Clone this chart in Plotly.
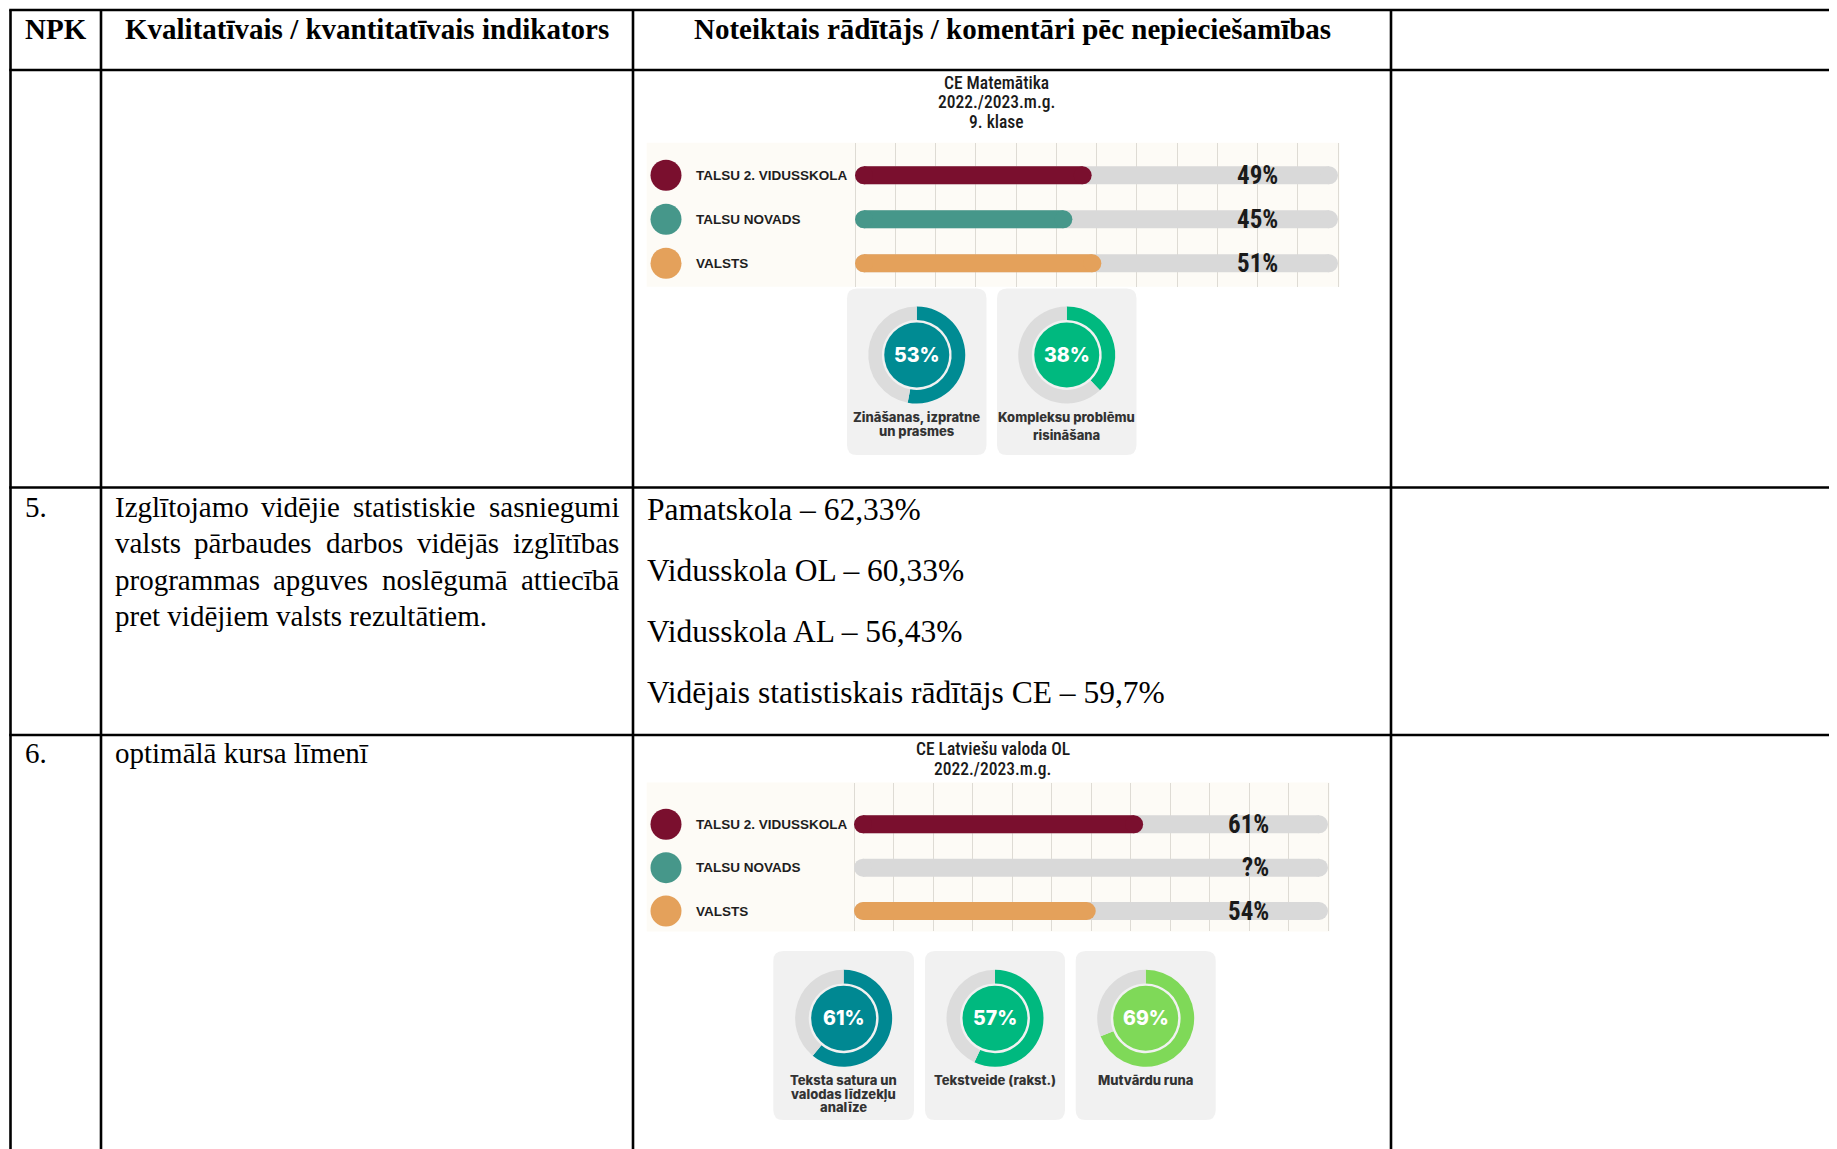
import plotly.graph_objects as go

W, H = 1837, 1149          # target picture size
OFF = 8                    # page body margin of the html page
FW, FH = W - 2 * OFF, H - OFF

# ------------------------------------------------------------------ data
header = ["NPK", "Kvalitatīvais / kvantitatīvais indikators",
          "Noteiktais rādītājs / komentāri pēc nepieciešamības"]
row5_num = "5."
row5_indicator = ["Izglītojamo vidējie statistiskie sasniegumi",
                  "valsts pārbaudes darbos vidējās izglītības",
                  "programmas apguves noslēgumā attiecībā",
                  "pret vidējiem valsts rezultātiem."]
row5_results = ["Pamatskola – 62,33%", "Vidusskola OL – 60,33%",
                "Vidusskola AL – 56,43%", "Vidējais statistiskais rādītājs CE – 59,7%"]
row6_num = "6."
row6_indicator = "optimālā kursa līmenī"

categories = ["TALSU 2. VIDUSSKOLA", "TALSU NOVADS", "VALSTS"]

chart1_title = ["CE Matemātika", "2022./2023.m.g.", "9. klase"]
chart1_bar_values = [49, 45, 51]
chart1_value_labels = ["49%", "45%", "51%"]
chart1_donut_values = [53, 38]
chart1_donut_labels = [["Zināšanas, izpratne", "un prasmes"], ["Kompleksu problēmu", "risināšana"]]

chart2_title = ["CE Latviešu valoda OL", "2022./2023.m.g."]
chart2_bar_values = [61, None, 51]
chart2_value_labels = ["61%", "?%", "54%"]
chart2_donut_values = [61, 57, 69]
chart2_donut_labels = [["Teksta satura un", "valodas līdzekļu", "analīze"],
                       ["Tekstveide (rakst.)"], ["Mutvārdu runa"]]

track_values = [100, 100, 100]

# ------------------------------------------------------------------ styles
SERIES_COLORS = ["#7A0F2E", "#46978A", "#E4A15B"]
TRACK = "#D9D9D9"
CREAM = "#FDFBF6"
GRID = "#DEDBD4"
CARD = "#F1F1F1"
RING_TRACK = "#DCDCDC"
DONUT1_COLORS = ["#008B93", "#00B97F"]
DONUT2_COLORS = ["#008892", "#00B97F", "#7FD958"]

SERIF = "Liberation Serif, Times New Roman, serif"
NARROW = "Liberation Sans Narrow, Arial Narrow, Roboto Condensed, DejaVu Sans Condensed, Liberation Sans, sans-serif"
SANS = "Liberation Sans, Arial, sans-serif"
GEO = "Inter, Roboto, sans-serif"

# Times New Roman / Liberation Serif advance widths (1/1000 em)
TIMES_W = {' ': 250, '.': 250, 'I': 333, 'a': 444, 'ā': 444, 'b': 500, 'c': 444, 'd': 500,
           'e': 444, 'ē': 444, 'f': 333, 'g': 500, 'h': 500, 'i': 278, 'ī': 278, 'j': 278,
           'k': 500, 'l': 278, 'm': 778, 'n': 500, 'o': 500, 'p': 500, 'r': 333, 's': 389,
           't': 278, 'u': 500, 'v': 500, 'z': 444}


def px(x):
    return (x - OFF) / FW


def py(y):
    return 1 - (y - OFF) / FH


fig = go.Figure()
shapes = []
annotations = []


def line(x0, y0, x1, y1, w=2.6, color="#000000"):
    shapes.append(dict(type="line", xref="paper", yref="paper", x0=px(x0), y0=py(y0),
                       x1=px(x1), y1=py(y1), line=dict(color=color, width=w), layer="above"))


def text(x, y, s, size, family=SERIF, weight=400, color="#000000", xanchor="left", ref=("paper", "paper")):
    if ref == ("paper", "paper"):
        xx, yy = px(x), py(y)
    else:
        xx, yy = x, y
    annotations.append(dict(x=xx, y=yy, xref=ref[0], yref=ref[1], text=s, showarrow=False,
                            xanchor=xanchor, yanchor="middle", borderpad=0, borderwidth=0,
                            font=dict(family=family, size=size, color=color, weight=weight)))


def rrect(x0, y0, x1, y1, r, color):
    rx, ry = r / FW, r / FH
    X0, X1 = px(x0), px(x1)
    Y0, Y1 = py(y1), py(y0)  # bottom, top
    path = (f"M{X0 + rx},{Y1} L{X1 - rx},{Y1} Q{X1},{Y1} {X1},{Y1 - ry} "
            f"L{X1},{Y0 + ry} Q{X1},{Y0} {X1 - rx},{Y0} L{X0 + rx},{Y0} "
            f"Q{X0},{Y0} {X0},{Y0 + ry} L{X0},{Y1 - ry} Q{X0},{Y1} {X0 + rx},{Y1} Z")
    shapes.append(dict(type="path", xref="paper", yref="paper", path=path,
                       fillcolor=color, line=dict(width=0), layer="below"))


# ------------------------------------------------------------------ table
COLS = [10.5, 101, 633, 1391]
TOP, HEAD_BOT, ROW5_TOP, ROW6_TOP = 10, 70, 487.5, 735
RIGHT_EDGE, BOTTOM_EDGE = W - OFF, H
for yv in (TOP, HEAD_BOT, ROW5_TOP, ROW6_TOP):
    line(COLS[0] - 1.3, yv, RIGHT_EDGE, yv)
for xv in COLS:
    line(xv, TOP, xv, BOTTOM_EDGE)

HEAD_FS = 29
text((COLS[0] + COLS[1]) / 2, 29, header[0], HEAD_FS, weight=700, xanchor="center")
text((COLS[1] + COLS[2]) / 2, 29, header[1], HEAD_FS, weight=700, xanchor="center")
text((COLS[2] + COLS[3]) / 2, 29, header[2], HEAD_FS, weight=700, xanchor="center")

BODY_FS = 29
text(25, 507, row5_num, BODY_FS)
J_X0, J_X1 = 114.5, 619.0
LINE_Y0, LINE_DY = 507, 36.3
for i, ln in enumerate(row5_indicator):
    yv = LINE_Y0 + i * LINE_DY
    words = ln.split(" ")
    if i == len(row5_indicator) - 1:
        text(J_X0, yv, ln, BODY_FS)
        continue
    widths = [sum(TIMES_W.get(c, 500) for c in w) / 1000 * BODY_FS for w in words]
    gap = (J_X1 - J_X0 - sum(widths)) / (len(words) - 1)
    xcur = J_X0
    for w, wd in zip(words, widths):
        text(xcur, yv, w, BODY_FS)
        xcur += wd + gap

RES_FS = 31.5
for i, s in enumerate(row5_results):
    text(646.5, 509.6 + i * 61, s, RES_FS)

text(25, 753, row6_num, BODY_FS)
text(J_X0, 753, row6_indicator, BODY_FS)


# ------------------------------------------------------------------ bar charts
BAR_PX = 18
DOT_PX = 31


def pill_bars(values, colors, xr, yr, rd):
    """Horizontal bars with round ends: thick line between the cap centres plus round caps."""
    for cat, v, col in zip(categories, values, colors):
        if v is None:
            continue
        fig.add_trace(go.Scatter(x=[rd, v - rd], y=[cat, cat], mode="lines+markers",
                                 line=dict(color=col, width=BAR_PX),
                                 marker=dict(color=col, size=BAR_PX, line=dict(width=0)),
                                 xaxis=xr, yaxis=yr, hoverinfo="skip", cliponaxis=False))


def bar_chart(idx, bg, track, row_c, title, title_cx, title_ys, values, labels):
    xa = "xaxis" if idx == 1 else f"xaxis{idx}"
    ya = "yaxis" if idx == 1 else f"yaxis{idx}"
    xr = "x" if idx == 1 else f"x{idx}"
    yr = "y" if idx == 1 else f"y{idx}"
    bx0, by0, bx1, by1 = bg
    t0, t1 = track
    c0, c2 = row_c
    ppu_x = (t1 - t0) / 100.0
    ppu_y = (c2 - c0) / (len(categories) - 1)
    rd = (BAR_PX / 2) / ppu_x

    shapes.append(dict(type="rect", xref="paper", yref="paper", x0=px(bx0), x1=px(bx1),
                       y0=py(by1), y1=py(by0), fillcolor=CREAM, line=dict(width=0), layer="below"))

    pill_bars(track_values, [TRACK] * 3, xr, yr, rd)
    pill_bars(values, SERIES_COLORS, xr, yr, rd)

    # legend dots
    dot_x = (666 - t0) / ppu_x
    fig.add_trace(go.Scatter(y=categories, x=[dot_x] * 3, mode="markers", xaxis=xr, yaxis=yr,
                             marker=dict(size=DOT_PX, color=SERIES_COLORS, line=dict(width=0)),
                             cliponaxis=False, hoverinfo="skip"))
    lab_x = (696 - t0) / ppu_x
    for c in categories:
        text(lab_x, c, c, 13.5, family=SANS, weight=700, color="#1E1E1E", ref=(xr, yr))
    for c, lab in zip(categories, labels):
        text(87.5, c, lab, 25, family=NARROW, weight=700, color="#1A1A1A", xanchor="right", ref=(xr, yr))

    fig.update_layout(**{
        xa: dict(domain=[px(bx0), px(bx1)], range=[(bx0 - t0) / ppu_x, (bx1 - t0) / ppu_x],
                 tickvals=[i * 100 / 12 for i in range(13)], showticklabels=False, showgrid=True,
                 gridcolor=GRID, gridwidth=1.2, zeroline=False, showline=False, fixedrange=True),
        ya: dict(domain=[py(by1), py(by0)], type="category", categoryorder="array",
                 categoryarray=categories,
                 range=[(by1 - c0) / ppu_y, (by0 - c0) / ppu_y], showticklabels=False,
                 showgrid=False, zeroline=False, showline=False, fixedrange=True),
    })
    for s, yv in zip(title, title_ys):
        text(title_cx, yv, s, 17.5, family=NARROW, weight=500, color="#1A1A1A", xanchor="center")


bar_chart(1, (646.7, 142.7, 1339.5, 286.7), (855, 1338), (175.3, 263.3),
          chart1_title, 997, [83, 102, 121.5], chart1_bar_values, chart1_value_labels)
bar_chart(2, (646.7, 782.6, 1329.7, 931.4), (854, 1328), (824.3, 911.0),
          chart2_title, 992.5, [748.6, 768.6], chart2_bar_values, chart2_value_labels)

# ------------------------------------------------------------------ donuts
R_OUT, HOLE, R_DISC = 48.5, 0.72, 32.5


def dom(cx, cy, r):
    return dict(x=[px(cx - r), px(cx + r)], y=[py(cy + r), py(cy - r)])


def donuts(cards, centers_y, values, colors, labels, label_ys):
    for (x0, y0, x1, y1), v, col, labs, lys in zip(cards, values, colors, labels, label_ys):
        rrect(x0, y0, x1, y1, 10, CARD)
        cx = (x0 + x1) / 2
        cy = centers_y
        fig.add_trace(go.Pie(values=[v, 100 - v], marker=dict(colors=[col, RING_TRACK], line=dict(width=0)),
                             hole=HOLE, sort=False, direction="clockwise", rotation=0,
                             textinfo="none", hoverinfo="skip", domain=dom(cx, cy, R_OUT)))
        fig.add_trace(go.Pie(values=[v], marker=dict(colors=[col], line=dict(width=0)), sort=False,
                             textinfo="none", hoverinfo="skip", domain=dom(cx, cy, R_DISC)))
        text(cx, cy, f"{v}%", 19.5, family=GEO, weight=800, color="#FFFFFF", xanchor="center")
        for s, ly in zip(labs, lys):
            text(cx, ly, s, 13, family=GEO, weight=800, color="#333333", xanchor="center")


donuts([(847, 288.5, 986.5, 455), (997, 288.5, 1136.5, 455)], 355,
       chart1_donut_values, DONUT1_COLORS, chart1_donut_labels, [[417.3, 430.7], [417.3, 435.3]])
donuts([(773.3, 951, 914, 1120), (925, 951, 1065, 1120), (1075.7, 951, 1215.7, 1120)], 1018.3,
       chart2_donut_values, DONUT2_COLORS, chart2_donut_labels, [[1080, 1093.5, 1107], [1080], [1080]])

fig.update_layout(template="none", width=FW, height=FH, margin=dict(l=0, r=0, t=0, b=0),
                  paper_bgcolor="#FFFFFF", plot_bgcolor="rgba(0,0,0,0)",
                  showlegend=False, shapes=shapes, annotations=annotations)

fig.write_html("out.html")
